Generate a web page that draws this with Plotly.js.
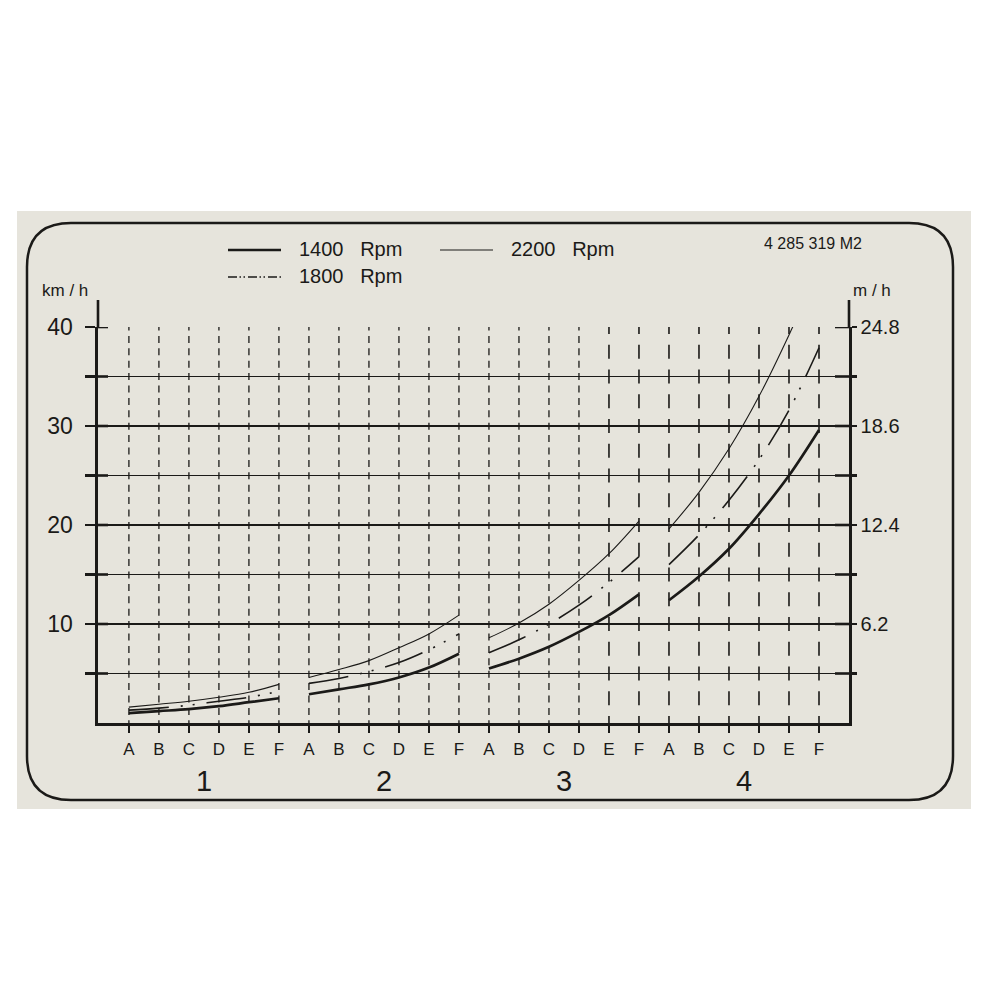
<!DOCTYPE html>
<html><head><meta charset="utf-8">
<script src="https://cdn.plot.ly/plotly-3.0.1.min.js"></script>
<style>html,body{margin:0;padding:0;background:#fff}</style>
</head><body><div id="chart" style="width:1000px;height:1000px"></div>
<script>
// ---- data ----
const gears = ['1', '2', '3', '4'];
const ranges = ['A', 'B', 'C', 'D', 'E', 'F'];
const rpmNames = ['1400\u00a0\u00a0\u00a0Rpm', '1800\u00a0\u00a0\u00a0Rpm', '2200\u00a0\u00a0\u00a0Rpm'];
// km/h per gear (1..4) and range (A..F)
const speed1400 = [1.0, 1.2, 1.4, 1.7, 2.1, 2.5,   2.9, 3.4, 3.9, 4.6, 5.6, 7.0,   5.5, 6.5, 7.7, 9.2, 10.9, 13.0,   12.4, 14.8, 17.6, 21.1, 25.0, 29.6];
const speed1800 = [1.3, 1.5, 1.8, 2.2, 2.6, 3.2,   4.0, 4.5, 5.2, 6.1, 7.4, 9.0,   7.1, 8.4, 10.0, 11.9, 14.2, 16.8, 16.0, 19.0, 22.5, 26.6, 31.6, 37.9];
const speed2200 = [1.6, 1.9, 2.2, 2.6, 3.1, 3.9,   4.6, 5.4, 6.3, 7.6, 9.0, 10.9,  8.6, 10.1, 12.0, 14.4, 17.1, 20.4, 19.6, 23.3, 27.7, 33.0, 39.2, 46.0];
const kmhTickLabels = ['10', '20', '30', '40'];
const mphTickLabels = ['6.2', '12.4', '18.6', '24.8'];
const partNumber = '4 285 319 M2';
const leftUnit = 'km / h';
const rightUnit = 'm / h';

// ---- geometry helpers (pixel -> paper) ----
const L = 98, R = 849, T = 327, B = 723;
const px = x => (x - L) / (R - L);
const py = y => (B - y) / (B - T);
const INK = '#1b1a18';
const FONT = 'Liberation Sans, Arial, Helvetica, sans-serif';
const X_MIN = -1.03, X_MAX = 24;
const unitPerPx = (X_MAX - X_MIN) / (R - L);

const nG = gears.length, nR = ranges.length;
function buildTrace(vals, name, line, yaxis) {
  const x = [], y = [];
  for (let g = 0; g < nG; g++) {
    for (let r = 0; r < nR; r++) { x.push(g * nR + r); y.push(vals[g * nR + r]); }
    x.push(null); y.push(null);
  }
  return {type: 'scatter', mode: 'lines', x, y, name, connectgaps: false, yaxis: yaxis || 'y',
          line: Object.assign({color: INK, shape: 'spline', smoothing: 1}, line),
          hoverinfo: 'skip', showlegend: false};
}
const traces = [
  buildTrace(speed1400, rpmNames[0], {width: 2.7}),
  buildTrace(speed1800, rpmNames[1], {width: 1.6, dash: '40px,12px,2px,10px,2px,12px'}, 'y2'),
  buildTrace(speed2200, rpmNames[2], {width: 1.1})
];

const catVals = [], catText = [];
for (let g = 0; g < nG; g++) for (let r = 0; r < nR; r++) { catVals.push(g * nR + r); catText.push(ranges[r]); }
const yVals = [], yLeftText = [], yRightText = [];
for (let k = 1; k <= 8; k++) {
  yVals.push(k * 5);
  yLeftText.push(k % 2 === 0 ? kmhTickLabels[k / 2 - 1] : '');
  yRightText.push(k % 2 === 0 ? mphTickLabels[k / 2 - 1] : '');
}

const shapes = [];
// sticker background and rounded border
shapes.push({type: 'rect', xref: 'paper', yref: 'paper', x0: px(17), x1: px(971), y0: py(211), y1: py(809),
             fillcolor: '#e6e4dc', line: {width: 0}, layer: 'below'});
(function () {
  const x0 = 27, x1 = 953, y0 = 223, y1 = 800, r = 44;
  const P = (x, y) => px(x) + ',' + py(y);
  const path = 'M' + P(x0 + r, y0) + ' L' + P(x1 - r, y0) + ' Q' + P(x1, y0) + ' ' + P(x1, y0 + r) +
    ' L' + P(x1, y1 - r) + ' Q' + P(x1, y1) + ' ' + P(x1 - r, y1) +
    ' L' + P(x0 + r, y1) + ' Q' + P(x0, y1) + ' ' + P(x0, y1 - r) +
    ' L' + P(x0, y0 + r) + ' Q' + P(x0, y0) + ' ' + P(x0 + r, y0) + ' Z';
  shapes.push({type: 'path', xref: 'paper', yref: 'paper', path, line: {color: INK, width: 2.5}, layer: 'below'});
})();
// vertical dashed guide lines at each range position
catVals.forEach((v, i) => {
  const longDash = i >= 16;
  shapes.push({type: 'line', xref: 'x', yref: 'y', x0: v, x1: v, y0: 40, y1: 0, layer: 'below',
               line: {color: INK, width: longDash ? 1.6 : 1.3,
                      dash: longDash ? '7px,10.75px,14px,10.75px,7px,0px' : '3.5px,5.4px,7px,5.4px,3.5px,0px'}});
});
// inner halves of the axis ticks (left 10px, right 14px)
yVals.forEach(v => {
  shapes.push({type: 'line', xref: 'x', yref: 'y', x0: X_MIN, x1: X_MIN + 10 * unitPerPx, y0: v, y1: v, line: {color: INK, width: 2.6}});
  shapes.push({type: 'line', xref: 'x', yref: 'y', x0: X_MAX - 14 * unitPerPx, x1: X_MAX, y0: v, y1: v, line: {color: INK, width: 2.6}});
});
// axis extensions above the top grid line
shapes.push({type: 'line', xref: 'paper', yref: 'paper', x0: 0, x1: 0, y0: 1, y1: py(300), line: {color: INK, width: 2.6}});
shapes.push({type: 'line', xref: 'paper', yref: 'paper', x0: 1, x1: 1, y0: 1, y1: py(300), line: {color: INK, width: 2.6}});
// legend samples
shapes.push({type: 'line', xref: 'paper', yref: 'paper', x0: px(228), x1: px(281), y0: py(250), y1: py(250), line: {color: INK, width: 2.7}});
shapes.push({type: 'line', xref: 'paper', yref: 'paper', x0: px(228), x1: px(281), y0: py(277), y1: py(277), line: {color: INK, width: 1.6, dash: '9px,2.5px,1.5px,2.5px,1.5px,3px'}});
shapes.push({type: 'line', xref: 'paper', yref: 'paper', x0: px(440), x1: px(493), y0: py(250), y1: py(250), line: {color: INK, width: 1.1}});

const ann = (text, x, y, size, xanchor) => ({text, xref: 'paper', yref: 'paper', x: px(x), y: py(y), xanchor: xanchor || 'left', yanchor: 'middle',
  showarrow: false, font: {family: FONT, size, color: INK}});
const annotations = [
  ann(rpmNames[0], 297, 249, 20),
  ann(rpmNames[1], 297, 276, 20),
  ann(rpmNames[2], 509, 249, 20),
  ann(partNumber, 762, 243, 16),
  ann(leftUnit, 65, 290, 17, 'center'),
  ann(rightUnit, 872, 290, 17, 'center')
];
gears.forEach((g, i) => {
  annotations.push({text: g, xref: 'x', yref: 'paper', x: i * nR + (nR - 1) / 2, y: py(781), xanchor: 'center', yanchor: 'middle',
    showarrow: false, font: {family: FONT, size: 29, color: INK}});
});

const layout = {
  width: 1000, height: 1000, autosize: false,
  margin: {l: L, r: 1000 - R, t: T, b: 1000 - B, pad: 0},
  paper_bgcolor: '#ffffff', plot_bgcolor: 'rgba(0,0,0,0)',
  showlegend: false,
  font: {family: FONT, color: INK},
  xaxis: {range: [X_MIN, X_MAX], tickmode: 'array', tickvals: catVals, ticktext: catText,
          ticks: 'outside', ticklen: 7, tickwidth: 2, tickcolor: INK,
          tickfont: {family: FONT, size: 17, color: INK}, ticklabelstandoff: 2,
          showgrid: false, zeroline: false, showline: true, linecolor: INK, linewidth: 2.6, fixedrange: true},
  yaxis: {range: [0, 40], tickmode: 'array', tickvals: yVals, ticktext: yLeftText,
          ticks: 'outside', ticklen: 10, tickwidth: 2.6, tickcolor: INK,
          tickfont: {family: FONT, size: 23, color: INK}, ticklabelstandoff: 8,
          showgrid: true, gridcolor: INK, gridwidth: 1.6,
          zeroline: false, showline: true, linecolor: INK, linewidth: 2.6, fixedrange: true},
  yaxis2: {range: [0, 40], overlaying: 'y', side: 'right', anchor: 'x', tickmode: 'array', tickvals: yVals, ticktext: yRightText,
          ticks: 'outside', ticklen: 5, tickwidth: 2.6, tickcolor: INK,
          tickfont: {family: FONT, size: 20, color: INK}, ticklabelstandoff: 0,
          showgrid: false, zeroline: false, showline: true, linecolor: INK, linewidth: 2.6, fixedrange: true},
  shapes, annotations
};

Plotly.newPlot('chart', traces, layout, {displayModeBar: false, staticPlot: true});
</script></body></html>
